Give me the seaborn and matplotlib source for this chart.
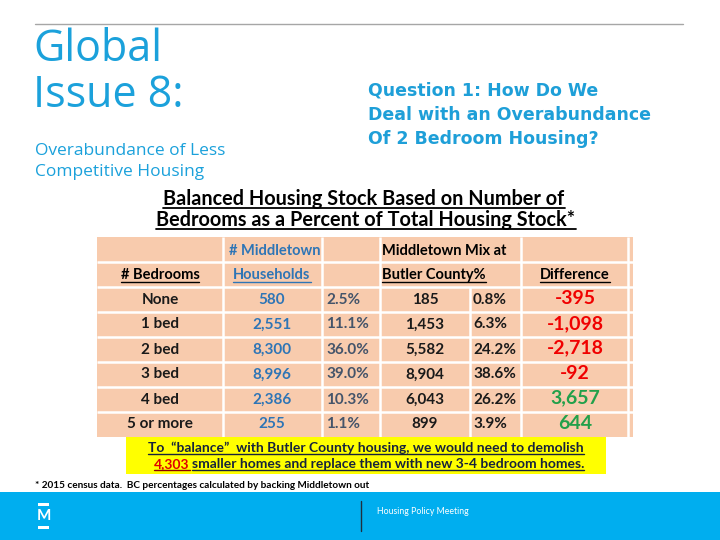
import numpy as np
import pandas as pd
import seaborn as sns
import matplotlib.pyplot as plt
from matplotlib.colors import ListedColormap
from matplotlib.lines import Line2D
from matplotlib.transforms import IdentityTransform

# table data
bedrooms = ["None", "1 bed", "2 bed", "3 bed", "4 bed", "5 or more"]
middletown_hh = [580, 2551, 8300, 8996, 2386, 255]
middletown_pct = [2.5, 11.1, 36.0, 39.0, 10.3, 1.1]
butler_mix = [185, 1453, 5582, 8904, 6043, 899]
butler_pct = [0.8, 6.3, 24.2, 38.6, 26.2, 3.9]
difference = [-395, -1098, -2718, -92, 3657, 644]

df = pd.DataFrame({"bedrooms": bedrooms, "hh": middletown_hh, "hh_pct": middletown_pct,
                   "bc": butler_mix, "bc_pct": butler_pct, "diff": difference})

sns.set_theme(style="white")
plt.rcParams['font.family'] = ['Lato', 'DejaVu Sans']

BLUE = "#1BA1DB"
PEACH = "#F8CBAD"
NAVY = "#17233C"

fig = plt.figure(figsize=(7.2, 5.4), dpi=100)
bg = fig.add_axes([0, 0, 1, 1])
bg.set_xlim(0, 720)
bg.set_ylim(540, 0)
bg.axis("off")


def underline(t, color, lw=1.0, gap=2.5):
    r = fig.canvas.get_renderer()
    bb = t.get_window_extent(r)
    x, y = t.get_transform().transform(t.get_position())
    fig.add_artist(Line2D([bb.x0, bb.x1], [y - gap, y - gap], color=color, lw=lw,
                          transform=IdentityTransform()))


# slide header
bg.plot([35, 683], [24, 24], color="#A6A6A6", lw=1)
bg.text(33, 61, "Global", fontsize=31, color=BLUE, family=["Open Sans", "DejaVu Sans"], va="baseline")
bg.text(33, 107, "Issue 8:", fontsize=31, color=BLUE, family=["Open Sans", "DejaVu Sans"], va="baseline")
bg.text(35, 155, "Overabundance of Less", fontsize=12.5, color=BLUE, family=["Open Sans", "DejaVu Sans"], va="baseline")
bg.text(35, 176, "Competitive Housing", fontsize=12.5, color=BLUE, family=["Open Sans", "DejaVu Sans"], va="baseline")
for i, s in enumerate(["Question 1: How Do We", "Deal with an Overabundance", "Of 2 Bedroom Housing?"]):
    bg.text(368, 96 + i * 24, s, fontsize=12.5, color="#1E9FD8", weight="bold",
            family=["DejaVu Sans"], va="baseline")

title1 = bg.text(364, 205, "Balanced Housing Stock Based on Number of", fontsize=14.3, weight="bold",
                 ha="center", va="baseline", color="black")
title2 = bg.text(366, 226, "Bedrooms as a Percent of Total Housing Stock*", fontsize=14.3, weight="bold",
                 ha="center", va="baseline", color="black")

# table background drawn with seaborn heatmap
L, R, T, B = 97, 633, 237, 437
ax = fig.add_axes([L / 720, 1 - B / 540, (R - L) / 720, (B - T) / 540])
sns.heatmap(np.zeros((8, 1)), cmap=ListedColormap([PEACH]), cbar=False, ax=ax,
            xticklabels=False, yticklabels=False)


def tx(px):
    return (px - L) / (R - L)


for px in [223, 322, 380, 521, 628]:
    ax.vlines(tx(px), 0, 8, color="white", lw=1.8)
ax.vlines(tx(470), 2, 8, color="white", lw=1.8)
ax.hlines(np.arange(1, 8), 0, 1, color="white", lw=1.8)

# header rows
ax.text(tx(275), 0.55, "# Middletown", ha="center", va="center", fontsize=10.5, weight="bold", color="#2E75B6")
ax.text(tx(382), 0.55, "Middletown Mix at", ha="left", va="center", fontsize=10.5, weight="bold", color="black")
h_bed = ax.text(tx(160), 1.68, "# Bedrooms", ha="center", va="baseline", fontsize=10.5, weight="bold", color="black")
h_hh = ax.text(tx(272), 1.68, "Households", ha="center", va="baseline", fontsize=10.5, weight="bold", color="#2E75B6")
h_bc = ax.text(tx(382), 1.68, "Butler County%", ha="left", va="baseline", fontsize=10.5, weight="bold", color="black")
h_diff = ax.text(tx(575), 1.68, "Difference", ha="center", va="baseline", fontsize=10.5, weight="bold", color="black")

# data rows
for i, row in df.iterrows():
    y = 2.5 + i
    ax.text(tx(160), y, row["bedrooms"], ha="center", va="center", fontsize=11, weight="bold", color="#1A1A1A")
    ax.text(tx(272), y, f"{row['hh']:,}", ha="center", va="center", fontsize=11, weight="bold", color="#2E75B6")
    ax.text(tx(326), y, f"{row['hh_pct']:.1f}%", ha="left", va="center", fontsize=11, weight="bold", color="#44546A")
    ax.text(tx(425), y, f"{row['bc']:,}", ha="center", va="center", fontsize=11, weight="bold", color="#1A1A1A")
    ax.text(tx(473), y, f"{row['bc_pct']:.1f}%", ha="left", va="center", fontsize=11, weight="bold", color="#1A1A1A")
    c = "#F00000" if row["diff"] < 0 else "#22A04A"
    ax.text(tx(575), y - 0.05, f"{row['diff']:,}", ha="center", va="center", fontsize=14, weight="bold", color=c)

# yellow note box
bg.add_patch(plt.Rectangle((126, 437), 480, 37, color="#FFFF00", lw=0))
note1 = bg.text(366, 452, "To  \u201cbalance\u201d  with Butler County housing, we would need to demolish",
                ha="center", va="baseline", fontsize=10, weight="bold", color=NAVY)
num = bg.text(154, 468, "4,303", ha="left", va="baseline", fontsize=10, weight="bold", color="#E00000")

# footnote
bg.text(35, 488, "* 2015 census data.  BC percentages calculated by backing Middletown out",
        fontsize=7.2, weight="bold", color="black", va="baseline")

# footer band
bg.add_patch(plt.Rectangle((0, 492), 720, 48, color="#00AEEF", lw=0))
bg.plot([361, 361], [501, 531], color="#1F2F3F", lw=1)
bg.text(377, 511, "Housing Policy Meeting", fontsize=6.3, color="white", va="center")
bg.text(43.5, 516, "M", fontsize=11, weight="bold", color="white", ha="center", va="center")
bg.add_patch(plt.Rectangle((38, 503), 11, 3, color="white", lw=0))
bg.add_patch(plt.Rectangle((38, 526), 11, 3, color="white", lw=0))

fig.canvas.draw()
r = fig.canvas.get_renderer()
bb = num.get_window_extent(r)
x_end = bg.transData.inverted().transform((bb.x1, bb.y0))[0]
rest = bg.text(x_end + 2, 468, "smaller homes and replace them with new 3-4 bedroom homes.",
               ha="left", va="baseline", fontsize=10, weight="bold", color=NAVY)
fig.canvas.draw()

for t in [title1, title2]:
    underline(t, "black", lw=1.3, gap=3)
for t in [h_bed, h_bc, h_diff]:
    underline(t, "black", lw=1.0, gap=2.5)
underline(h_hh, "#2E75B6", lw=1.0, gap=2.5)
underline(note1, NAVY, lw=1.0, gap=2)
underline(num, "#8B0000", lw=1.0, gap=2)
underline(rest, NAVY, lw=1.0, gap=2)

fig.savefig("out.png", dpi=100)
